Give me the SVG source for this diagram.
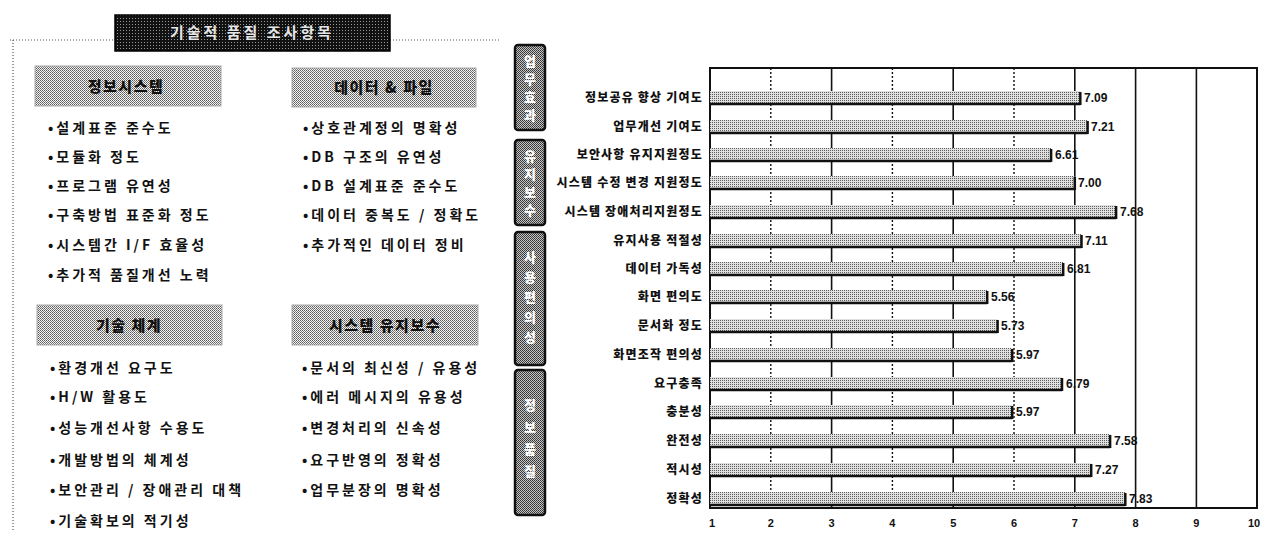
<svg xmlns="http://www.w3.org/2000/svg" width="1264" height="534" viewBox="0 0 1264 534">
<defs>
  <pattern id="chk" width="2" height="2" patternUnits="userSpaceOnUse">
    <rect width="2" height="2" fill="#f4f4f4"/>
    <rect width="1" height="1" fill="#5a5a5a"/>
    <rect x="1" y="1" width="1" height="1" fill="#7a7a7a"/>
  </pattern>
  <pattern id="dark" width="3" height="3" patternUnits="userSpaceOnUse">
    <rect width="3" height="3" fill="#111111"/>
    <rect width="1" height="1" fill="#9a9a9a"/>
  </pattern>
  <pattern id="bar" width="2" height="2" patternUnits="userSpaceOnUse">
    <rect width="2" height="2" fill="#e0e0e0"/>
    <rect width="1" height="1" fill="#5e5e5e"/>
  </pattern>
  <pattern id="vbox" width="2" height="2" patternUnits="userSpaceOnUse">
    <rect width="2" height="2" fill="#c4c4c4"/>
    <rect width="1" height="1" fill="#333333"/>
    <rect x="1" y="1" width="1" height="1" fill="#444444"/>
  </pattern>
</defs>
<style>
  .t { font-family: "Noto Sans CJK KR", "Noto Sans", sans-serif; fill: #111; }
  .item { font-size: 14px; font-weight: 700; letter-spacing: 3px; }
  .hd { font-size: 15px; font-weight: 900; letter-spacing: 1.5px; text-anchor: middle; }
  .lbl { font-size: 12px; font-weight: 900; letter-spacing: 1.2px; text-anchor: end; }
  .val { font-family: "Liberation Sans", sans-serif; font-size: 12px; font-weight: 700; fill: #111; }
  .ax { font-family: "Liberation Sans", sans-serif; font-size: 11px; font-weight: 700; fill: #111; text-anchor: middle; }
  .hbox { fill: url(#chk); stroke: #aaaaaa; stroke-width: 1; }
  .dotline { stroke: #555; stroke-width: 1.2; stroke-dasharray: 1 2; fill: none; }
  .grid { stroke: #111; stroke-width: 1.6; }
  .gridd { stroke: #111; stroke-width: 1.4; stroke-dasharray: 2 2; }
  .barf { fill: url(#bar); }
  .bare { stroke: #111; stroke-width: 2.5; }
  .vb { fill: url(#vbox); stroke: #111; stroke-width: 2.5; }
  .vt { font-family: "Noto Sans CJK KR", sans-serif; font-size: 13px; font-weight: 900; fill: #ffffff; text-anchor: middle; }
</style>

<!-- left panel frame -->
<g id="panel-frame">
  <line class="dotline" x1="10" y1="40" x2="115" y2="40"/>
  <line class="dotline" x1="390" y1="40" x2="500" y2="40"/>
  <line class="dotline" x1="13" y1="40" x2="13" y2="530"/>
</g>

<g id="title">
  <rect x="115" y="15" width="275" height="36" fill="url(#dark)" stroke="#000" stroke-width="1.5"/>
  <text class="t" x="252" y="38" font-size="15" font-weight="700" text-anchor="middle" letter-spacing="3" style="fill:#e6e6e6">기술적 품질 조사항목</text>
</g>

<g id="sec-info">
  <rect class="hbox" x="35" y="66" width="186" height="40"/>
  <text class="t hd" x="126" y="92">정보시스템</text>
  <text class="t item" x="48" y="133">•설계표준 준수도</text>
  <text class="t item" x="48" y="162">•모듈화 정도</text>
  <text class="t item" x="48" y="191">•프로그램 유연성</text>
  <text class="t item" x="48" y="220">•구축방법 표준화 정도</text>
  <text class="t item" x="48" y="250">•시스템간 I/F 효율성</text>
  <text class="t item" x="48" y="280">•추가적 품질개선 노력</text>
</g>

<g id="sec-data">
  <rect class="hbox" x="292" y="68" width="184" height="39"/>
  <text class="t hd" x="384" y="93">데이터 &amp; 파일</text>
  <text class="t item" x="303" y="133">•상호관계정의 명확성</text>
  <text class="t item" x="303" y="162">•DB 구조의 유연성</text>
  <text class="t item" x="303" y="191">•DB 설계표준 준수도</text>
  <text class="t item" x="303" y="220">•데이터 중복도 / 정확도</text>
  <text class="t item" x="303" y="250">•추가적인 데이터 정비</text>
</g>

<g id="sec-tech">
  <rect class="hbox" x="37" y="305" width="185" height="40"/>
  <text class="t hd" x="129" y="331">기술 체계</text>
  <text class="t item" x="50" y="373">•환경개선 요구도</text>
  <text class="t item" x="50" y="402">•H/W 활용도</text>
  <text class="t item" x="50" y="433">•성능개선사항 수용도</text>
  <text class="t item" x="50" y="465">•개발방법의 체계성</text>
  <text class="t item" x="50" y="495">•보안관리 / 장애관리 대책</text>
  <text class="t item" x="50" y="526">•기술확보의 적기성</text>
</g>

<g id="sec-maint">
  <rect class="hbox" x="292" y="305" width="186" height="40"/>
  <text class="t hd" x="385" y="331">시스템 유지보수</text>
  <text class="t item" x="302" y="373">•문서의 최신성 / 유용성</text>
  <text class="t item" x="302" y="402">•에러 메시지의 유용성</text>
  <text class="t item" x="302" y="433">•변경처리의 신속성</text>
  <text class="t item" x="302" y="465">•요구반영의 정확성</text>
  <text class="t item" x="302" y="495">•업무분장의 명확성</text>
</g>

<!-- category boxes -->
<g id="cat-1">
  <rect class="vb" x="515" y="45" width="30" height="85" rx="3"/>
  <text class="vt"><tspan x="530" y="66">업</tspan><tspan x="530" y="84">무</tspan><tspan x="530" y="102">효</tspan><tspan x="530" y="120">과</tspan></text>
</g>
<g id="cat-2">
  <rect class="vb" x="515" y="140" width="30" height="85" rx="3"/>
  <text class="vt"><tspan x="530" y="161">유</tspan><tspan x="530" y="179">지</tspan><tspan x="530" y="197">보</tspan><tspan x="530" y="215">수</tspan></text>
</g>
<g id="cat-3">
  <rect class="vb" x="515" y="232" width="30" height="133" rx="3"/>
  <text class="vt"><tspan x="530" y="262">사</tspan><tspan x="530" y="282">용</tspan><tspan x="530" y="302">편</tspan><tspan x="530" y="322">의</tspan><tspan x="530" y="342">성</tspan></text>
</g>
<g id="cat-4">
  <rect class="vb" x="515" y="370" width="30" height="145" rx="3"/>
  <text class="vt"><tspan x="530" y="410">정</tspan><tspan x="530" y="432">보</tspan><tspan x="530" y="454">품</tspan><tspan x="530" y="476">질</tspan></text>
</g>

<!-- chart grid -->
<g id="chart-grid">
  <line class="gridd" x1="770.8" y1="68" x2="770.8" y2="508"/>
  <line class="grid" x1="831.6" y1="68" x2="831.6" y2="508"/>
  <line class="gridd" x1="892.4" y1="68" x2="892.4" y2="508"/>
  <line class="grid" x1="953.2" y1="68" x2="953.2" y2="508"/>
  <line class="gridd" x1="1014" y1="68" x2="1014" y2="508"/>
  <line class="grid" x1="1074.8" y1="68" x2="1074.8" y2="508"/>
  <line class="grid" x1="1135.6" y1="68" x2="1135.6" y2="508"/>
  <line class="grid" x1="1196.4" y1="68" x2="1196.4" y2="508"/>
  <rect x="710" y="68" width="547" height="440" fill="none" stroke="#111" stroke-width="2"/>
  <text class="ax" x="712" y="527">1</text>
  <text class="ax" x="770.8" y="527">2</text>
  <text class="ax" x="831.6" y="527">3</text>
  <text class="ax" x="892.4" y="527">4</text>
  <text class="ax" x="953.2" y="527">5</text>
  <text class="ax" x="1014" y="527">6</text>
  <text class="ax" x="1074.8" y="527">7</text>
  <text class="ax" x="1135.6" y="527">8</text>
  <text class="ax" x="1196.4" y="527">9</text>
  <text class="ax" x="1254" y="527">10</text>
</g>

<g id="connectors"></g>

<!-- bars -->
<g id="bar-1"><rect class="barf" x="710" y="91" width="370.3" height="14"/><line class="bare" x1="710" y1="104" x2="1080.3" y2="104"/><line class="bare" x1="1080.3" y1="92" x2="1080.3" y2="105"/>
  <text class="t lbl" x="703" y="102">정보공유 향상 기여도</text><text class="val" x="1084" y="102">7.09</text></g>
<g id="bar-2"><rect class="barf" x="710" y="120" width="377.6" height="14"/><line class="bare" x1="710" y1="133" x2="1087.6" y2="133"/><line class="bare" x1="1087.6" y1="121" x2="1087.6" y2="134"/>
  <text class="t lbl" x="703" y="131">업무개선 기여도</text><text class="val" x="1091" y="131">7.21</text></g>
<g id="bar-3"><rect class="barf" x="710" y="148" width="341.1" height="14"/><line class="bare" x1="710" y1="161" x2="1051.1" y2="161"/><line class="bare" x1="1051.1" y1="149" x2="1051.1" y2="162"/>
  <text class="t lbl" x="703" y="159">보안사항 유지지원정도</text><text class="val" x="1055" y="159">6.61</text></g>
<g id="bar-4"><rect class="barf" x="710" y="176" width="364.8" height="14"/><line class="bare" x1="710" y1="189" x2="1074.8" y2="189"/><line class="bare" x1="1074.8" y1="177" x2="1074.8" y2="190"/>
  <text class="t lbl" x="703" y="187">시스템 수정 변경 지원정도</text><text class="val" x="1078" y="187">7.00</text></g>
<g id="bar-5"><rect class="barf" x="710" y="205" width="406.1" height="14"/><line class="bare" x1="710" y1="218" x2="1116.1" y2="218"/><line class="bare" x1="1116.1" y1="206" x2="1116.1" y2="219"/>
  <text class="t lbl" x="703" y="216">시스템 장애처리지원정도</text><text class="val" x="1120" y="216">7.68</text></g>
<g id="bar-6"><rect class="barf" x="710" y="234" width="371.5" height="14"/><line class="bare" x1="710" y1="247" x2="1081.5" y2="247"/><line class="bare" x1="1081.5" y1="235" x2="1081.5" y2="248"/>
  <text class="t lbl" x="703" y="245">유지사용 적절성</text><text class="val" x="1085" y="245">7.11</text></g>
<g id="bar-7"><rect class="barf" x="710" y="262" width="353.2" height="14"/><line class="bare" x1="710" y1="275" x2="1063.2" y2="275"/><line class="bare" x1="1063.2" y1="263" x2="1063.2" y2="276"/>
  <text class="t lbl" x="703" y="273">데이터 가독성</text><text class="val" x="1067" y="273">6.81</text></g>
<g id="bar-8"><rect class="barf" x="710" y="290" width="277.2" height="14"/><line class="bare" x1="710" y1="303" x2="987.2" y2="303"/><line class="bare" x1="987.2" y1="291" x2="987.2" y2="304"/>
  <text class="t lbl" x="703" y="301">화면 편의도</text><text class="val" x="991" y="301">5.56</text></g>
<g id="bar-9"><rect class="barf" x="710" y="319" width="287.6" height="14"/><line class="bare" x1="710" y1="332" x2="997.6" y2="332"/><line class="bare" x1="997.6" y1="320" x2="997.6" y2="333"/>
  <text class="t lbl" x="703" y="330">문서화 정도</text><text class="val" x="1001" y="330">5.73</text></g>
<g id="bar-10"><rect class="barf" x="710" y="348" width="302.2" height="14"/><line class="bare" x1="710" y1="361" x2="1012.2" y2="361"/><line class="bare" x1="1012.2" y1="349" x2="1012.2" y2="362"/>
  <text class="t lbl" x="703" y="359">화면조작 편의성</text><text class="val" x="1016" y="359">5.97</text></g>
<g id="bar-11"><rect class="barf" x="710" y="377" width="352" height="14"/><line class="bare" x1="710" y1="390" x2="1062" y2="390"/><line class="bare" x1="1062" y1="378" x2="1062" y2="391"/>
  <text class="t lbl" x="703" y="388">요구충족</text><text class="val" x="1066" y="388">6.79</text></g>
<g id="bar-12"><rect class="barf" x="710" y="405" width="302.2" height="14"/><line class="bare" x1="710" y1="418" x2="1012.2" y2="418"/><line class="bare" x1="1012.2" y1="406" x2="1012.2" y2="419"/>
  <text class="t lbl" x="703" y="416">충분성</text><text class="val" x="1016" y="416">5.97</text></g>
<g id="bar-13"><rect class="barf" x="710" y="434" width="400.1" height="14"/><line class="bare" x1="710" y1="447" x2="1110.1" y2="447"/><line class="bare" x1="1110.1" y1="435" x2="1110.1" y2="448"/>
  <text class="t lbl" x="703" y="445">완전성</text><text class="val" x="1114" y="445">7.58</text></g>
<g id="bar-14"><rect class="barf" x="710" y="463" width="381.2" height="14"/><line class="bare" x1="710" y1="476" x2="1091.2" y2="476"/><line class="bare" x1="1091.2" y1="464" x2="1091.2" y2="477"/>
  <text class="t lbl" x="703" y="474">적시성</text><text class="val" x="1095" y="474">7.27</text></g>
<g id="bar-15"><rect class="barf" x="710" y="492" width="415.3" height="14"/><line class="bare" x1="710" y1="505" x2="1125.3" y2="505"/><line class="bare" x1="1125.3" y1="493" x2="1125.3" y2="506"/>
  <text class="t lbl" x="703" y="503">정확성</text><text class="val" x="1129" y="503">7.83</text></g>
</svg>
